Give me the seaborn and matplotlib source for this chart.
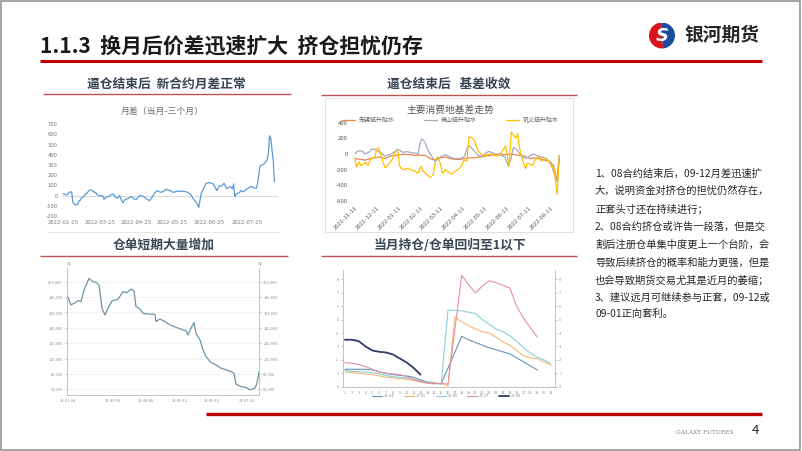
import numpy as np
import pandas as pd
import matplotlib
matplotlib.use("Agg")
import matplotlib.pyplot as plt
import seaborn as sns
from matplotlib.patches import Rectangle, Wedge
from matplotlib.lines import Line2D

# ---------------- data ----------------
# chart 1: month spread (current - 3 month), x = days since 2022-02-25
spread_days = [0, 3, 5, 6, 7, 8, 10, 12, 13, 14, 15, 17, 18, 19, 22, 24, 26, 27, 28, 31,
               33, 34, 36, 38, 39, 42, 43, 45, 47, 49, 50, 51, 54, 57, 59, 61, 64, 67, 69, 72,
               74, 76, 78, 81, 83, 86, 89, 92, 94, 97, 100, 103, 106, 108, 111, 113, 114, 115, 117, 119,
               122, 125, 128, 130, 132, 134, 136, 137, 139, 141, 142, 143, 144, 147, 148, 150, 152, 154, 156, 158,
               160, 161, 162, 164, 166, 168, 170, 171, 172, 173, 174, 175, 176]
spread_vals = [16, 7, 30, 39, 33, -69, -92, -85, -49, -49, -26, -10, 16, 16, 56, 49, 33, 30, 10, -3,
               -3, -36, -10, -10, 7, 16, -10, -26, 0, -59, -69, -43, -26, -10, -33, -36, 3, -10, -30, -49,
               -16, 23, 49, 33, 39, 62, 49, 30, 43, 43, 43, 36, 16, -26, -69, -115, -43, 23, 72, 121,
               128, 115, 49, 95, 95, 121, 72, 72, 89, 66, 115, -10, 16, 30, 49, 39, 56, 72, 89, 82,
               72, 72, 121, 292, 302, 318, 357, 416, 587, 564, 449, 351, 138]
spread_tick_days = [0, 31, 61, 91, 122, 153]
spread_tick_labels = ["2022-02-25", "2022-03-25", "2022-04-25", "2022-05-25", "2022-06-25", "2022-07-25"]

# chart 2: basis in main consumption areas, x = days since 2021-11-11
basis_start = "2021-11-11"
wuxi_days = [0, 7, 14, 21, 28, 35, 42, 49, 56, 63, 70, 77, 84, 91, 98, 105, 112, 119, 126, 133, 140, 147,
             153, 160, 167, 174, 181, 188, 195, 202, 209, 216, 223, 230, 237, 244, 251, 258, 265, 272,
             277, 280, 282, 285]
wuxi_vals = [-60, -70, -80, -60, -50, -40, -60, -30, -20, -10, -5, -10, -20, -15, -20, -60, -80, -50, -40,
             -60, -70, -70, -60, -50, -50, -40, -30, -20, -10, 0, -10, 0, -10, -20, -30, -60, -50, -60,
             -80, -100, -150, -280, -350, -30]
foshan_days = [0, 3, 7, 11, 14, 19, 23, 28, 33, 37, 42, 47, 51, 56, 59, 63, 67, 72, 77, 84, 88, 91, 93, 96,
               99, 102, 107, 112, 116, 121, 126, 130, 135, 140, 147, 153, 157, 160, 164, 167, 172, 177,
               181, 186, 191, 195, 202, 209, 214, 217, 221, 225, 228, 233, 237, 242, 249, 253, 260, 267,
               272, 276, 279, 282, 285]
foshan_vals = [0, 30, 40, 30, 0, 20, 60, 60, 30, 10, -30, -10, 0, 30, 60, 40, 20, 30, 20, 10, 0, 150, 190,
               170, 120, 40, -30, -100, -60, -30, -10, -30, -50, -60, -60, -30, 90, 100, 60, 30, -20, -30,
               0, 30, 20, 0, -10, -40, -160, -80, 80, 60, 20, -20, -60, -40, 0, -20, -40, -60, -110, -200,
               -280, -310, -20]
gongyi_days = [0, 2, 6, 8, 12, 15, 18, 21, 24, 28, 30, 33, 35, 39, 42, 45, 49, 53, 57, 60, 62, 65, 70, 74,
               79, 84, 88, 92, 95, 100, 105, 109, 113, 115, 119, 122, 126, 130, 135, 140, 144, 149, 152,
               156, 159, 163, 166, 170, 173, 179, 184, 191, 198, 202, 207, 210, 213, 215, 218, 221, 224,
               227, 229, 232, 235, 238, 240, 244, 248, 251, 256, 260, 265, 270, 274, 278, 280, 282, 285]
gongyi_vals = [-50, -170, -100, -150, -130, -110, -150, -80, -60, -40, 60, 80, 20, -100, -180, -150, -110,
               -50, 40, 20, -150, -190, -200, -180, -210, -220, -250, -160, -220, -260, -300, -270, -60,
               -40, -120, -250, -200, -230, -260, -220, -200, -150, -80, -90, 220, 210, 180, 80, 20, -20,
               -10, 0, -30, -10, 60, 100, -50, -150, 280, 240, 200, 260, 100, -30, -110, -190, -120, -130,
               -150, -80, -40, -90, -60, -90, -150, -220, -380, -520, -20]
basis_names = ["无锡铝升贴水", "佛山铝升贴水", "巩义铝升贴水"]
basis_ticks = ["2021-11-11", "2021-12-11", "2022-01-11", "2022-02-11", "2022-03-11", "2022-04-11",
               "2022-05-11", "2022-06-11", "2022-07-11", "2022-08-11"]

# chart 3: warehouse receipts (tonnes), x = trading-day index
wr_idx = [0, 4, 8, 11, 14, 17, 22, 26, 29, 32, 35, 38, 41, 45, 51, 56, 60, 64, 67, 69, 73, 76, 81, 88, 89,
          93, 98, 103, 109, 116, 119, 121, 124, 127, 129, 133, 136, 139, 144, 149, 154, 159, 164, 167, 169,
          174, 179, 183, 188, 190, 192]
wr_vals = [182700, 169700, 172700, 175300, 174000, 189000, 204300, 200000, 199100, 195700, 165400, 156700,
           165400, 174900, 177100, 187000, 185700, 190500, 187900, 167500, 164500, 158900, 158000, 157600,
           148000, 151500, 148000, 143700, 140700, 137200, 136400, 130700, 139400, 146800, 132900, 124200,
           111200, 102600, 94800, 91800, 87500, 85300, 83100, 80900, 66700, 63600, 62300, 59300, 61500,
           68000, 83100]
wr_tick_idx = [1, 46, 79, 113, 145, 180]
wr_tick_labels = ["22-01-04", "22-03-08", "22-04-08", "22-05-12", "22-06-10", "22-07-14"]

# chart 4: open interest / warehouse receipts ratio, x = day number 1..31
nan = np.nan
day_no = list(range(1, 32))
ratio_2204 = [1.3, 1.3, 1.3, 1.3, 1.25, 1.1, 1.0, 0.9, 0.85, 0.8, 0.7, 0.5, 0.35, 0.3, 0.2, nan, nan,
              3.75, 3.5, 3.3, 3.1, 2.9, 2.75, 2.6, 2.45, 2.15, 1.85, 1.55, 1.25, nan, nan]
ratio_2205 = [1.1, 1.05, 1.0, 0.95, 0.9, 0.8, 0.72, 0.65, 0.6, 0.55, 0.45, 0.35, 0.3, 0.27, 0.25, 0.05,
              5.2, 4.85, 4.55, 4.3, 4.1, 4.0, 3.7, 3.35, 3.1, 2.7, 2.3, 2.15, 2.1, 1.85, 1.6]
ratio_2206 = [1.2, 1.15, 1.12, 1.1, 1.05, 0.95, 0.85, 0.75, 0.7, 0.65, 0.55, 0.4, 0.3, 0.25, 0.2, 5.7,
              5.7, 5.65, 5.55, 5.45, 5.0, 4.65, 4.3, 4.1, 3.8, 3.4, 2.9, 2.5, 2.2, 2.0, 1.7]
ratio_2207 = [1.8, 1.75, 1.65, 1.5, 1.3, 1.1, 1.0, 0.95, 0.9, 0.75, 0.55, 0.37, 0.25, 0.22, 0.25, 0.2, nan,
              8.3, 7.6, 7.0, 7.5, 7.9, 7.75, 7.55, 7.35, 6.0, 5.1, 4.4, 3.7, nan, nan]
ratio_2208 = [3.5, 3.5, 3.4, 3.0, 2.7, 2.6, 2.55, 2.4, 2.1, 1.8, 1.4, 0.9] + [nan] * 19
ratio_names = ["22-04", "22-05", "22-06", "22-07", "22-08"]

text_lines = [
    "1、08合约结束后，09-12月差迅速扩",
    "大，说明资金对挤仓的担忧仍然存在，",
    "正套头寸还在持续进行；",
    "2、08合约挤仓或许告一段落，但是交",
    "割后注册仓单集中度更上一个台阶，会",
    "导致后续挤仓的概率和能力更强，但是",
    "也会导致期货交易尤其是近月的萎缩；",
    "3、建议远月可继续参与正套，09-12或",
    "09-01正向套利。",
]

# ---------------- style ----------------
sns.set_style("white")
plt.rcParams['font.family'] = ['Noto Sans CJK SC', 'DejaVu Sans']
plt.rcParams['axes.unicode_minus'] = False

W, H = 802, 451
fig = plt.figure(figsize=(W / 100, H / 100), dpi=100)
fig.patch.set_facecolor("white")


def ax_at(l, t, r, b):
    return fig.add_axes([l / W, 1 - b / H, (r - l) / W, (b - t) / H])


def ftext(x, y, s, **kw):
    fig.text(x / W, 1 - y / H, s, **kw)


def hline(x0, x1, y, color, lw):
    fig.add_artist(Line2D([x0 / W, x1 / W], [1 - y / H, 1 - y / H], color=color, lw=lw,
                          transform=fig.transFigure, solid_capstyle="butt"))


# slide border
fig.add_artist(Rectangle((0.6 / W, 1.5 / H), (W - 2.2) / W, (H - 2.5) / H, fill=False,
                         ec="#8C8C8C", lw=1.1, transform=fig.transFigure))

# header
ftext(40, 46, "1.1.3  换月后价差迅速扩大  挤仓担忧仍存", fontsize=15, fontweight="bold",
      va="center", ha="left", color="#1A1A1A")
hline(40, 762, 61, "#C00000", 2.2)

# logo
lax = ax_at(649, 22, 675, 49)
lax.set_xlim(-1, 1)
lax.set_ylim(-1, 1)
lax.set_aspect("equal")
lax.axis("off")
lax.add_patch(Wedge((0, 0), 1, 95, 275, fc="#D7141A", ec="none"))
lax.add_patch(Wedge((0, 0), 1, 275, 455, fc="#1D4E9E", ec="none"))
lax.text(0.02, -0.05, "S", color="white", fontsize=13, fontweight="bold", style="italic",
         ha="center", va="center", family="DejaVu Sans")
ftext(684, 35, "银河期货", fontsize=13.5, fontweight="bold", va="center", ha="left", color="#262626")

# section subtitles
sub_color = "#3A4656"
ftext(166, 84, "逼仓结束后  新合约月差正常", fontsize=9.2, fontweight="bold", ha="center", va="center", color=sub_color)
hline(43, 291, 93.5, "#C0504D", 1.0)
ftext(449, 84, "逼仓结束后   基差收敛", fontsize=9.2, fontweight="bold", ha="center", va="center", color=sub_color)
hline(321, 577, 94.5, "#C0504D", 1.0)
ftext(164, 245, "仓单短期大量增加", fontsize=9.2, fontweight="bold", ha="center", va="center", color=sub_color)
hline(40, 288, 255.5, "#C0504D", 1.0)
ftext(450, 245, "当月持仓/仓单回归至1以下", fontsize=9.2, fontweight="bold", ha="center", va="center", color=sub_color)
hline(321, 577, 255.5, "#C0504D", 1.0)
hline(47, 280, 232, "#E3E3E3", 0.6)
fig.add_artist(Rectangle((325 / W, 1 - 232 / H), (573 - 325) / W, (232 - 98) / H, fill=False,
                         ec="#DCDCDC", lw=0.6, transform=fig.transFigure))

# ---------------- chart 1 ----------------
ax1 = ax_at(62, 124.3, 278, 216)
ax1.axhline(0, color="#D9D9D9", lw=0.8, zorder=0)
sns.lineplot(x=spread_days, y=spread_vals, ax=ax1, color="#5B9BD5", linewidth=0.9)
ax1.set_xlim(-1.1, 179)
ax1.set_ylim(-200, 700)
ax1.set_yticks(range(-200, 701, 100))
ax1.set_xticks(spread_tick_days)
ax1.set_xticklabels(spread_tick_labels)
ax1.tick_params(labelsize=4.3, colors="#7F7F7F", length=0, pad=3)
for s in ax1.spines.values():
    s.set_visible(False)
ax1.set_xlabel("")
ax1.set_ylabel("")
ftext(162, 111, "月差（当月-三个月）", fontsize=6.4, ha="center", va="center", color="#6E6E6E")

# ---------------- chart 2 ----------------
ax2 = ax_at(351.7, 122.7, 561.7, 200.7)
start = pd.Timestamp(basis_start)
bdf = pd.concat([
    pd.DataFrame({"date": start + pd.to_timedelta(wuxi_days, unit="D"), "v": wuxi_vals, "s": basis_names[0]}),
    pd.DataFrame({"date": start + pd.to_timedelta(foshan_days, unit="D"), "v": foshan_vals, "s": basis_names[1]}),
    pd.DataFrame({"date": start + pd.to_timedelta(gongyi_days, unit="D"), "v": gongyi_vals, "s": basis_names[2]}),
])
pal = {basis_names[0]: "#E8884A", basis_names[1]: "#A5A9C0", basis_names[2]: "#FFC000"}
sns.lineplot(data=bdf, x="date", y="v", hue="s", palette=pal, ax=ax2, linewidth=0.9)
ax2.set_xlim(start - pd.Timedelta(days=4.6), start + pd.Timedelta(days=288.3))
ax2.set_ylim(-600, 400)
ax2.set_yticks(range(-600, 401, 200))
ax2.set_xticks(pd.to_datetime(basis_ticks))
ax2.set_xticklabels(basis_ticks, rotation=45, ha="right", va="top", rotation_mode="anchor")
ax2.tick_params(labelsize=4.3, colors="#595959", length=0, pad=3)
for s in ax2.spines.values():
    s.set_visible(False)
ax2.set_xlabel("")
ax2.set_ylabel("")
h, l = ax2.get_legend_handles_labels()
ax2.legend(h, l, loc="lower center", bbox_to_anchor=(0.47, 0.93), ncol=3, frameon=False,
           fontsize=4.3, handlelength=2.2, columnspacing=5, handletextpad=0.5, labelcolor="#595959")
ftext(450, 110, "主要消费地基差走势", fontsize=7, ha="center", va="center", color="#595959")

# ---------------- chart 3 ----------------
ax3 = ax_at(67, 268, 259, 395)
sns.lineplot(x=wr_idx, y=wr_vals, ax=ax3, color="#6F93A8", linewidth=0.9)
ax3.set_xlim(0, 192)
ax3.set_ylim(52600, 217800)
yt = list(range(60000, 200001, 20000))
ax3.set_yticks(yt)
ax3.set_yticklabels([f"{v:,}" for v in yt])
ax3.set_xticks(wr_tick_idx)
ax3.set_xticklabels(wr_tick_labels)
ax3.grid(axis="y", color="#ECECEC", lw=0.4)
ax3.tick_params(labelsize=2.8, colors="#8C8C8C", length=1.5, width=0.4, pad=1.5)
for k, s in ax3.spines.items():
    s.set_color("#BFBFBF")
    s.set_linewidth(0.5)
ax3.spines["top"].set_visible(False)
ax3.set_xlabel("")
ax3.set_ylabel("")
ax3r = ax3.twinx()
ax3r.set_ylim(ax3.get_ylim())
ax3r.set_yticks(yt)
ax3r.set_yticklabels([f"{v:,}" for v in yt])
ax3r.tick_params(labelsize=2.8, colors="#8C8C8C", length=1.5, width=0.4, pad=1.5)
for k, s in ax3r.spines.items():
    s.set_color("#BFBFBF")
    s.set_linewidth(0.5)
ax3r.spines["top"].set_visible(False)
ftext(68, 266, "吨", fontsize=2.5, ha="center", va="bottom", color="#8C8C8C")
ftext(259, 266, "吨", fontsize=2.5, ha="center", va="bottom", color="#8C8C8C")

# ---------------- chart 4 ----------------
ax4 = ax_at(342.7, 270, 555, 386.7)
series4 = [ratio_2204, ratio_2205, ratio_2206, ratio_2207, ratio_2208]
cols4 = ["#6A93B8", "#F3B877", "#8CCFD9", "#E3909E", "#2F3A68"]
lws4 = [0.8, 0.8, 0.8, 0.8, 1.3]
for name, vals, c, lw in zip(ratio_names, series4, cols4, lws4):
    d = pd.DataFrame({"x": day_no, "y": vals}).dropna()
    sns.lineplot(data=d, x="x", y="y", ax=ax4, color=c, linewidth=lw, label=name)
ax4.set_xlim(0.67, 31.58)
ax4.set_ylim(0, 8.7)
ax4.set_yticks(range(0, 9))
ax4.set_xticks(day_no)
ax4.tick_params(labelsize=2.8, colors="#8C8C8C", length=1.5, width=0.4, pad=1.5)
for k, s in ax4.spines.items():
    s.set_color("#BFBFBF")
    s.set_linewidth(0.5)
ax4.spines["top"].set_visible(False)
ax4.set_xlabel("")
ax4.set_ylabel("")
h, l = ax4.get_legend_handles_labels()
ax4.legend(h, l, loc="upper center", bbox_to_anchor=(0.49, -0.035), ncol=5, frameon=False,
           fontsize=2.8, handlelength=2.5, columnspacing=2.5, handletextpad=0.5, labelcolor="#8C8C8C")
ax4r = ax4.twinx()
ax4r.set_ylim(ax4.get_ylim())
ax4r.set_yticks(range(0, 9))
ax4r.tick_params(labelsize=2.8, colors="#8C8C8C", length=1.5, width=0.4, pad=1.5)
for k, s in ax4r.spines.items():
    s.set_color("#BFBFBF")
    s.set_linewidth(0.5)
ax4r.spines["top"].set_visible(False)

# ---------------- commentary ----------------
line_y = [174, 191, 208.7, 226.7, 244.7, 262.3, 280, 297.3, 314]
for yy, t in zip(line_y, text_lines):
    ftext(595, yy, t, fontsize=7.4, ha="left", va="center", color="#262626")

# ---------------- footer ----------------
hline(206, 762, 414, "#C00000", 2.4)
ftext(705, 432, "GALAXY FUTURES", fontsize=4.2, ha="center", va="center", color="#7F7F7F",
      family="DejaVu Serif")
ftext(755, 431, "4", fontsize=9.5, ha="center", va="center", color="#262626")

fig.savefig("out.png", dpi=100)
